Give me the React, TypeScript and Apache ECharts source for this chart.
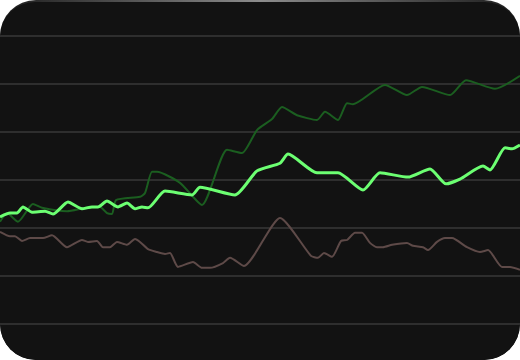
import React, { useEffect, useRef } from "react";
import * as echarts from "echarts";

// x = day index, y = value
const brightDays = [0, 2, 3.4, 4.6, 6.4, 9, 10.6, 13.6, 16.4, 18.4, 19.6, 21.4, 23.6, 25.4, 27, 28.4, 29.6, 33, 38.4, 40, 47, 51.4, 56, 57.6, 63.4, 67.6, 72.6, 76, 81.6, 86, 89.2, 92, 96.6, 98, 101, 102.4, 104];
const brightValues = [22.3, 23.1, 23.1, 24.4, 23.3, 23.5, 22.9, 25.4, 24.0, 24.4, 24.4, 25.6, 24.4, 25.2, 24.0, 24.4, 24.2, 27.7, 26.9, 28.5, 26.9, 31.9, 33.5, 35.4, 31.5, 31.5, 27.9, 31.5, 30.6, 32.3, 29.2, 30.2, 32.9, 32.1, 36.7, 36.5, 37.3];

const darkDays = [0, 1.4, 3.6, 6.6, 8.4, 13.4, 17, 20, 21.4, 22.4, 23.2, 28, 29, 30.4, 31.4, 36, 40.4, 45.4, 48.4, 51.4, 54.4, 56.4, 59.4, 63.4, 65, 67.6, 69.4, 70.6, 77, 81.4, 84.4, 90, 93.2, 99, 104];
const darkValues = [21.3, 23.1, 21.3, 25.0, 24.2, 23.5, 24.2, 24.4, 23.1, 22.9, 25.8, 26.5, 27.3, 31.7, 31.7, 29.4, 24.8, 36.3, 35.6, 40.4, 42.7, 45.2, 43.5, 42.5, 44.2, 42.5, 46.0, 45.8, 49.8, 47.7, 49.4, 47.7, 50.8, 49.0, 51.7];

const brownDays = [0, 2, 3, 4.4, 6, 8.6, 10.4, 13.4, 16.4, 17.6, 19.4, 20.6, 22, 23.4, 25.4, 27, 28, 29.6, 31.4, 33, 34, 35.6, 38.6, 40.4, 42, 44.6, 46, 48.8, 56, 62.2, 63.6, 64.8, 66.4, 68.2, 69.4, 71, 72.4, 74, 75.4, 76.6, 78.4, 81.4, 82.6, 84.6, 85.6, 87.4, 89, 90.4, 93.4, 96, 97.6, 100.4, 102, 104];
const brownValues = [19.2, 18.3, 18.3, 17.3, 17.9, 17.9, 18.5, 16.0, 17.5, 17.1, 17.3, 16.0, 16.0, 17.1, 16.5, 17.7, 17.1, 15.6, 15.0, 14.6, 14.8, 11.9, 12.9, 11.7, 11.7, 12.7, 13.8, 12.1, 22.1, 14.2, 13.8, 14.8, 14.0, 17.3, 17.5, 19.0, 19.0, 16.9, 16.0, 16.0, 16.5, 16.9, 16.3, 16.0, 15.4, 17.1, 17.9, 17.9, 16.0, 15.0, 15.4, 11.9, 11.9, 11.3];

const pairs = (xs: number[], ys: number[]) => xs.map((x, i) => [x, ys[i]]);

export default function App() {
  const ref = useRef<HTMLDivElement>(null);
  useEffect(() => {
    if (!ref.current) return;
    const chart = echarts.init(ref.current, undefined, { renderer: "svg" });
    chart.setOption({
      animation: false,
      backgroundColor: "transparent",
      grid: { left: 0, right: 0, top: 36, bottom: 36 },
      xAxis: {
        type: "value",
        min: 0,
        max: 104,
        show: false,
      },
      yAxis: {
        type: "value",
        min: 0,
        max: 60,
        interval: 10,
        axisLine: { show: false },
        axisTick: { show: false },
        axisLabel: { show: false },
        splitLine: { lineStyle: { color: "#2e2e2e", width: 2 } },
      },
      series: [
        {
          type: "line",
          data: pairs(brownDays, brownValues),
          showSymbol: false,
          smooth: 0.2,
          lineStyle: { color: "#5e4a48", width: 2 },
          z: 2,
        },
        {
          type: "line",
          data: pairs(darkDays, darkValues),
          showSymbol: false,
          smooth: 0.2,
          lineStyle: { color: "#1b5e20", width: 2 },
          z: 3,
        },
        {
          type: "line",
          data: pairs(brightDays, brightValues),
          showSymbol: false,
          smooth: 0.2,
          lineStyle: { color: "#6cff72", width: 3 },
          z: 4,
        },
      ],
    });
    return () => chart.dispose();
  }, []);

  return (
    <div
      style={{
        position: "fixed",
        top: 0,
        left: 0,
        width: 520,
        height: 360,
        borderRadius: 36,
        overflow: "hidden",
        background: "linear-gradient(90deg, #1c1c1c 0%, #8c8c8c 50%, #1c1c1c 100%)",
      }}
    >
      <div
        style={{
          position: "absolute",
          top: 2,
          left: 0,
          right: 0,
          bottom: 0,
          background: "#121212",
          borderRadius: 35,
        }}
      />
      <div ref={ref} style={{ position: "absolute", top: 0, left: 0, width: 520, height: 360 }} />
    </div>
  );
}
